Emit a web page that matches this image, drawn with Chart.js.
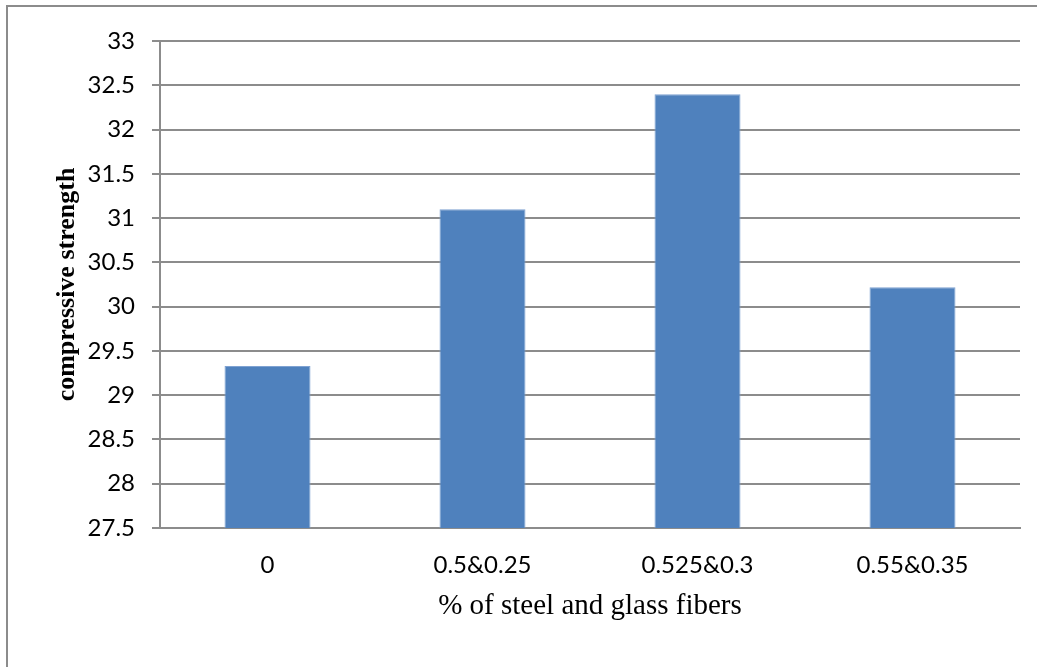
<!DOCTYPE html>
<html>
<head>
<meta charset="utf-8">
<script src="https://cdn.jsdelivr.net/npm/chart.js@4.4.1/dist/chart.umd.min.js"></script>
<style>
  html, body { margin: 0; padding: 0; background: #ffffff; }
  #wrap { width: 1037px; height: 667px; position: relative; }
</style>
</head>
<body>
<div id="wrap"><canvas id="c" width="1037" height="667"></canvas></div>
<script>
const categories = ['0', '0.5&0.25', '0.525&0.3', '0.55&0.35'];
const strengthValues = [29.33, 31.1, 32.4, 30.22];
const yTickLabels = ['27.5', '28', '28.5', '29', '29.5', '30', '30.5', '31', '31.5', '32', '32.5', '33'];
const yTitle = 'compressive strength';
const xTitle = '% of steel and glass fibers';

const gridColor = '#8c8c8c';

const frameBorder = {
  id: 'frameBorder',
  beforeDraw(chart) {
    const ctx = chart.ctx;
    ctx.save();
    ctx.strokeStyle = '#8c8c8c';
    ctx.lineWidth = 2;
    ctx.beginPath();
    ctx.moveTo(7, 667);
    ctx.lineTo(7, 6);
    ctx.lineTo(1037, 6);
    ctx.stroke();
    ctx.restore();
  }
};

new Chart(document.getElementById('c'), {
  type: 'bar',
  data: {
    labels: categories,
    datasets: [{
      label: yTitle,
      data: strengthValues,
      backgroundColor: '#4F81BD',
      borderColor: '#7fa2d2',
      borderWidth: 1,
      barPercentage: 0.4,
      categoryPercentage: 1.0
    }]
  },
  options: {
    responsive: false,
    animation: false,
    devicePixelRatio: 1,
    layout: { padding: { left: 0, right: 17, top: 41, bottom: 0 } },
    plugins: {
      legend: { display: false },
      tooltip: { enabled: false },
      title: { display: false }
    },
    scales: {
      x: {
        grid: { display: false },
        border: { display: true, color: gridColor, width: 2 },
        ticks: {
          color: '#000000',
          padding: 15,
          maxRotation: 0,
          font: { family: 'Lato', size: 24 }
        },
        title: {
          display: true,
          text: xTitle,
          color: '#000000',
          font: { family: 'Liberation Serif', size: 29 },
          padding: { top: 0, bottom: 43 }
        },
        afterFit(scale) { scale.height = 139; }
      },
      y: {
        min: 27.5,
        max: 33,
        grid: {
          color: gridColor,
          lineWidth: 2,
          drawTicks: true,
          tickLength: 8,
          tickColor: gridColor
        },
        border: { display: true, color: gridColor, width: 2 },
        afterBuildTicks(scale) {
          scale.ticks = yTickLabels.map(v => ({ value: parseFloat(v) }));
        },
        ticks: {
          color: '#000000',
          padding: 17,
          font: { family: 'Lato', size: 24 },
          callback(value) { return String(value); }
        },
        title: {
          display: true,
          text: yTitle,
          color: '#000000',
          font: { family: 'Liberation Serif', size: 26, weight: 'bold' },
          padding: { top: 52, bottom: 0 }
        },
        afterFit(scale) { scale.width = 160; }
      }
    }
  },
  plugins: [frameBorder]
});
</script>
</body>
</html>
